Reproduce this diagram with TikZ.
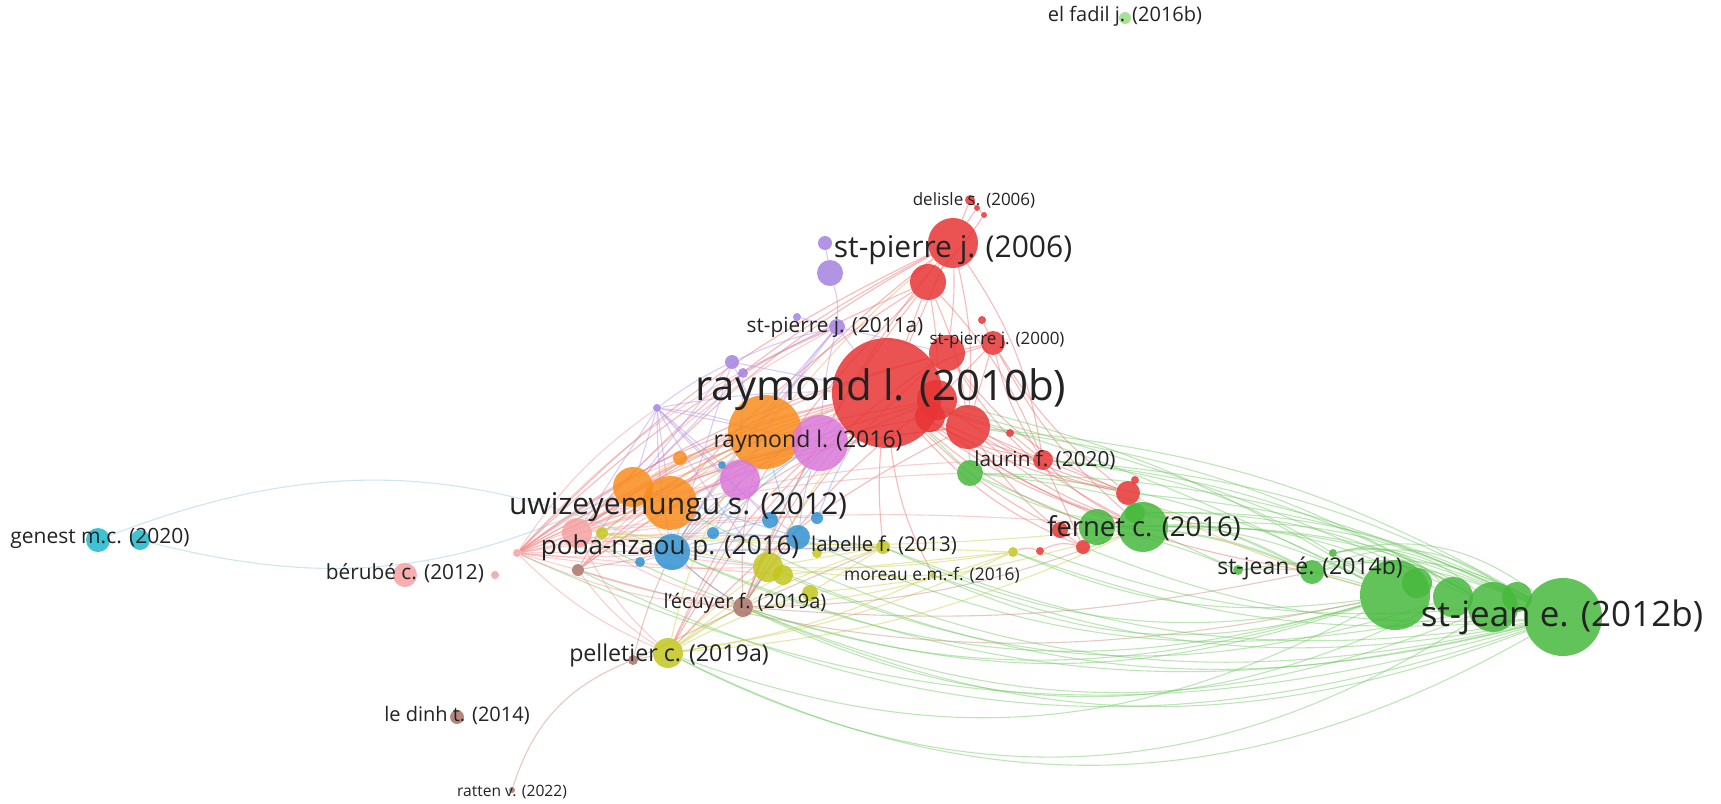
\documentclass[tikz,border=0pt]{standalone}
\usepackage{fontspec}
\setmainfont{Open Sans}
\pgfdeclarelayer{back}
\pgfdeclarelayer{edges}
\pgfsetlayers{back,edges,main}
\definecolor{cR}{RGB}{232,52,52}
\definecolor{cG}{RGB}{70,185,60}
\definecolor{cGl}{RGB}{150,222,135}
\definecolor{cB}{RGB}{50,145,210}
\definecolor{cY}{RGB}{195,198,30}
\definecolor{cP}{RGB}{165,130,225}
\definecolor{cN}{RGB}{170,115,105}
\definecolor{cV}{RGB}{218,120,218}
\definecolor{cK}{RGB}{245,160,160}
\definecolor{cO}{RGB}{248,140,30}
\definecolor{cC}{RGB}{30,185,205}
\definecolor{txt}{RGB}{35,35,35}
\definecolor{eRc}{RGB}{238,105,105}
\definecolor{eGc}{RGB}{110,200,95}
\definecolor{eKc}{RGB}{242,150,150}
\definecolor{eVc}{RGB}{175,145,230}
\definecolor{eBc}{RGB}{110,165,220}
\definecolor{eYc}{RGB}{205,205,70}
\definecolor{eNc}{RGB}{195,140,125}
\definecolor{eOc}{RGB}{245,165,90}
\definecolor{eCc}{RGB}{150,200,225}
\newcommand\fz[1]{\fontsize{#1}{#1}\selectfont}
\tikzset{
 bub/.style 2 args={circle, fill=#1, fill opacity=0.85, draw=none, inner sep=0pt, minimum size=#2pt},
 lbl/.style={text=txt, inner sep=0pt},
 edge/.style={draw=#1, line width=0.55pt, draw opacity=0.45},
}
\begin{document}
\begin{tikzpicture}[x=0.5pt,y=-0.5pt]
\useasboundingbox (0,0) rectangle (1721,804);
\begin{pgfonlayer}{back}
\fill[white] (0,0) rectangle (1721,804);
\end{pgfonlayer}
% ---------- nodes ----------
% red
\node[bub={cR}{25}] (stp06) at (953,243) {};
\node[bub={cR}{18}] (rA) at (928,282) {};
\node[bub={cR}{5}] (dls) at (970,200) {};
\node[bub={cR}{3}] (dlsa) at (977,208) {};
\node[bub={cR}{3}] (dlsb) at (984,215) {};
\node[bub={cR}{18}] (rC) at (947,353) {};
\node[bub={cR}{12}] (stp00) at (993,343) {};
\node[bub={cR}{4}] (rB) at (982,320) {};
\node[bub={cR}{55}] (ray) at (887,393) {};
\node[bub={cR}{20}] (rD) at (937,400) {};
\node[bub={cR}{15}] (rF) at (930,417) {};
\node[bub={cR}{22}] (rE) at (968,427) {};
\node[bub={cR}{4}] (rG) at (1010,433) {};
\node[bub={cR}{10}] (lau) at (1043,460) {};
\node[bub={cR}{12}] (rH) at (1128,493) {};
\node[bub={cR}{4}] (rI) at (1135,480) {};
\node[bub={cR}{8}] (rL) at (1060,530) {};
\node[bub={cR}{7}] (rJ) at (1083,547) {};
\node[bub={cR}{4}] (rK) at (1040,551) {};
% purple
\node[bub={cP}{7}] (pA) at (825,243) {};
\node[bub={cP}{13}] (pB) at (830,273) {};
\node[bub={cP}{8}] (stp11) at (837,327) {};
\node[bub={cP}{4}] (pC) at (797,317) {};
\node[bub={cP}{7}] (pD) at (732,362) {};
\node[bub={cP}{5}] (pE) at (743,373) {};
\node[bub={cP}{4}] (pF) at (657,408) {};
% orange
\node[bub={cO}{37}] (oA) at (765,432) {};
\node[bub={cO}{7}] (oB) at (680,458) {};
\node[bub={cO}{20}] (oC) at (633,487) {};
\node[bub={cO}{27}] (oD) at (670,503) {};
% violet
\node[bub={cV}{28}] (ray16) at (820,443) {};
\node[bub={cV}{20}] (vB) at (740,480) {};
% blue
\node[bub={cB}{18}] (poba) at (672,552) {};
\node[bub={cB}{12}] (bB) at (798,537) {};
\node[bub={cB}{8}] (bC) at (770,520) {};
\node[bub={cB}{6}] (bD) at (817,518) {};
\node[bub={cB}{6}] (bE) at (713,533) {};
\node[bub={cB}{4}] (bF) at (722,465) {};
\node[bub={cB}{5}] (bG) at (640,562) {};
% light pink
\node[bub={cK}{15}] (kA) at (577,533) {};
\node[bub={cK}{4}] (fan) at (517,553) {};
\node[bub={cK}{12}] (ber) at (405,575) {};
\node[bub={cK}{4}] (kB) at (495,575) {};
% yellow
\node[bub={cY}{6}] (yA) at (602,533) {};
\node[bub={cY}{15}] (yB) at (768,567) {};
\node[bub={cY}{10}] (yC) at (783,575) {};
\node[bub={cY}{7}] (lab) at (883,547) {};
\node[bub={cY}{5}] (yD) at (817,553) {};
\node[bub={cY}{8}] (yE) at (810,593) {};
\node[bub={cY}{15}] (pel) at (668,653) {};
\node[bub={cY}{5}] (yF) at (1013,552) {};
\node[bub={cY}{3}] (mor) at (933,575) {};
% brown
\node[bub={cN}{6}] (nA) at (578,570) {};
\node[bub={cN}{10}] (lec) at (743,607) {};
\node[bub={cN}{5}] (nB) at (633,660) {};
\node[bub={cN}{7}] (led) at (457,717) {};
\node[bub={cN}{3}] (rat) at (512,790) {};
% green
\node[bub={cGl}{6}] (fad) at (1125,18) {};
\node[bub={cG}{13}] (gA) at (970,473) {};
\node[bub={cG}{18}] (gB) at (1097,527) {};
\node[bub={cG}{25}] (fer) at (1143,527) {};
\node[bub={cG}{10}] (gC) at (1135,513) {};
\node[bub={cG}{12}] (sj14) at (1312,572) {};
\node[bub={cG}{5}] (gD) at (1238,570) {};
\node[bub={cG}{4}] (gE) at (1333,553) {};
\node[bub={cG}{35}] (gF) at (1395,595) {};
\node[bub={cG}{15}] (gG) at (1417,583) {};
\node[bub={cG}{20}] (gH) at (1453,597) {};
\node[bub={cG}{25}] (gI) at (1493,607) {};
\node[bub={cG}{15}] (gJ) at (1517,597) {};
\node[bub={cG}{39}] (sj12) at (1563,617) {};
% cyan
\node[bub={cC}{12}] (genA) at (98,540) {};
\node[bub={cC}{10}] (genB) at (140,540) {};
% ---------- labels ----------
\node[lbl,font=\fz{10}] (fadL) at (1125,16) {el fadil j. (2016b)};
\node[lbl,font=\fz{8.5}] (dlsL) at (974,200) {delisle s. (2006)};
\node[lbl,font=\fz{15}] (stp06L) at (953,250) {st-pierre j. (2006)};
\node[lbl,font=\fz{10.4}] (stp11L) at (835,327) {st-pierre j. (2011a)};
\node[lbl,font=\fz{8.5}] (stp00L) at (997,340) {st-pierre j. (2000)};
\node[lbl,font=\fz{21}] (rayL) at (881,390) {raymond l. (2010b)};
\node[lbl,font=\fz{11.5}] (ray16L) at (808,442) {raymond l. (2016)};
\node[lbl,font=\fz{10.4}] (lauL) at (1045,460) {laurin f. (2020)};
\node[lbl,font=\fz{15}] (uwL) at (678,507) {uwizeyemungu s. (2012)};
\node[lbl,font=\fz{13}] (pobaL) at (670,548) {poba-nzaou p. (2016)};
\node[lbl,font=\fz{10.2}] (labL) at (884,545) {labelle f. (2013)};
\node[lbl,font=\fz{8.7}] (morL) at (932,575) {moreau e.m.-f. (2016)};
\node[lbl,font=\fz{13.7}] (ferL) at (1144,528) {fernet c. (2016)};
\node[lbl,font=\fz{11.5}] (sj14L) at (1310,568) {st-jean é. (2014b)};
\node[lbl,font=\fz{17.5}] (sj12L) at (1562,617) {st-jean e. (2012b)};
\node[lbl,font=\fz{10.5}] (genL) at (100,538) {genest m.c. (2020)};
\node[lbl,font=\fz{10.4}] (berL) at (405,573) {bérubé c. (2012)};
\node[lbl,font=\fz{10}] (lecL) at (745,603) {l'écuyer f. (2019a)};
\node[lbl,font=\fz{11.6}] (pelL) at (669,655) {pelletier c. (2019a)};
\node[lbl,font=\fz{10}] (ledL) at (457,715) {le dinh t. (2014)};
\node[lbl,font=\fz{7.8}] (ratL) at (512,792) {ratten v. (2022)};
% ---------- connectors ----------
\begin{pgfonlayer}{edges}
% red
\foreach \a/\b/\c in {fan/ray/12, kA/ray/10, nA/ray/12, oC/ray/8, lec/ray/10, pel/ray/12, poba/ray/10,
 fan/stp06/10, oC/stp06/8, kA/stp06/10, ray16/stp06/5, poba/stp06/10, fan/rA/10, oD/rA/8, pel/rA/10,
 lec/rA/8, fan/rC/10, lec/rC/10, pel/rC/12, kA/rC/10, fan/rD/10, poba/rD/8, lec/rD/10, fan/rE/10, pel/rE/10,
 ray/stp06/0, ray/rA/0, ray/stp00/5, ray/lau/-10, ray/rH/-10, ray/fer/-10, ray/gB/-10, ray/rJ/-12,
 ray/sj14/-12, ray/mor/-10, ray/lab/-5,
 rA/stp06/0, rC/stp06/-5, rE/stp06/-8, rD/rA/-5, rE/rA/-8, lau/rA/-10, lau/stp06/-12,
 dls/dlsa/0, dls/dlsb/0, rA/dlsb/-5, stp06/dlsa/0, stp06/dls/0,
 rB/stp00/0, rE/stp00/0, stp00/lau/-10, stp00/rH/-10, stp00/fer/-10, rD/stp00/0, rC/stp00/0,
 rC/rH/-15, rC/fer/-15, rD/rH/-10, rE/lau/0, rE/rH/-10, rE/fer/-10, rE/rJ/-10,
 lau/rH/0, lau/fer/-10, lau/rJ/0, rI/rH/0, rH/fer/0, yF/rK/20, rK/rJ/20, rJ/gB/0, rL/gB/0,
 ray/rL/-8, ray/rG/0, rG/lau/0, rF/lau/-5, rF/fer/-10, kA/rF/8, nA/rD/10, oD/rE/8, yA/ray/10}
 \draw[edge=eRc] (\a) to[bend left=\c] (\b);
% green
\foreach \a/\b/\c in {gA/sj12/12, gA/gF/12, ray/gF/5, rE/sj12/12, lau/sj12/12, lau/gI/12, fer/sj12/12,
 fer/gH/14, gB/sj12/12, gB/gF/14, fer/gJ/15, rH/sj12/10, gC/sj12/14, fer/sj14/8, gB/sj14/10, gA/sj14/10,
 gC/gI/15, lau/gF/14, ray/gI/5, rD/gF/9, rE/gI/11,
 pel/sj12/-28, pel/gF/-24, lec/sj12/-22, lec/gF/-18, lec/gI/-22, poba/sj12/-18, poba/gF/-20, yB/sj12/-18,
 lab/sj12/-15, lab/gF/-18, mor/sj12/-15, yF/sj12/-12, yF/gF/-15, oD/sj12/-20, fan/sj12/-20, kA/gF/-22,
 nA/sj12/-22, bB/gI/-18, yC/gH/-20, mor/gF/-20, rJ/sj12/-12, rK/gI/-12, pel/gI/-30, lec/gH/-26,
 sj14/sj12/20, gE/sj12/25, gD/sj12/15, sj14/gI/25, gE/gI/25, sj14/gF/0, gD/gF/10, gE/gH/30, sj14/gJ/30,
 gC/sj14/10, fer/gD/0, gB/gD/5, gA/fer/-10, gA/gB/0, gA/ray/0, gA/rE/0}
 \draw[edge=eGc] (\a) to[bend left=\c] (\b);
% light pink
\foreach \a/\b/\c in {fan/oA/10, fan/oC/5, fan/oD/5, fan/ray16/10, fan/vB/8, fan/poba/-5, fan/bB/5,
 fan/yB/-5, fan/lec/-10, fan/pel/-10, fan/nA/0, fan/kA/0, fan/bE/5, fan/lab/0, fan/gA/8, fan/pF/10,
 fan/bC/5, fan/yC/0, kA/oA/10, kA/ray16/8, kA/lec/-8, kA/pel/-10, kA/yB/-5, kA/lau/8, kA/fer/5, kA/oD/0,
 kA/vB/5, kA/bD/5, nA/oA/10, nA/lec/-5, nA/pel/-10, nA/ray16/8, nA/oD/5, fan/stp11/12, kA/stp11/10}
 \draw[edge=eKc] (\a) to[bend left=\c] (\b);
% purple
\foreach \a/\b/\c in {pF/oA/5, pF/oC/0, pF/oD/0, pF/poba/-5, pF/bB/-5, pF/vB/0, pF/ray16/0, pF/yB/-5,
 pF/bC/0, pF/kA/0, pF/pD/5, pF/ray/5, pB/stp11/10, pA/pB/0, pD/stp11/5, pE/stp11/5, stp11/ray/0,
 oA/stp11/5, ray16/stp11/5, vB/stp11/5, pC/stp11/0, poba/stp11/5, stp11/rC/0, pD/ray/0, pD/oA/0,
 pE/oC/0, pD/oC/0, pE/vB/0, pD/poba/0}
 \draw[edge=eVc] (\a) to[bend left=\c] (\b);
% blue
\foreach \a/\b/\c in {poba/bB/5, poba/bC/5, poba/oA/5, poba/ray16/5, poba/lab/0, poba/yB/0, poba/lec/-5,
 poba/vB/5, bB/ray16/5, bB/oA/5, lec/bB/5, bB/lab/0, bE/bB/0, bE/oA/0, bF/ray16/0, bG/poba/0, bE/ray/5,
 bC/ray/5, bD/ray/5, oC/bB/0}
 \draw[edge=eBc] (\a) to[bend left=\c] (\b);
% yellow
\foreach \a/\b/\c in {pel/yB/5, pel/yC/5, pel/lab/8, pel/lec/5, pel/yE/5, pel/oA/10, pel/yF/-8,
 pel/mor/-8, pel/fer/-10, yA/yB/0, yA/lab/0, yA/oA/5, yB/lab/0, yB/yF/-5, yB/mor/-5, lab/yF/0,
 yC/yF/0, yE/lab/0, yE/fer/-5, lec/yF/-8, yA/fer/-5, yD/lab/0, yB/ray/5, yA/poba/0}
 \draw[edge=eYc] (\a) to[bend left=\c] (\b);
% brown
\foreach \a/\b/\c in {lec/ray16/5, lec/poba/5, lec/lab/0, lec/fer/-10, lec/yB/0, lec/oA/8, nA/poba/0,
 nA/oC/5, nB/pel/0, nB/lec/0, nB/poba/5, rat/nB/25, lec/sj14/-8, nA/gF/-14}
 \draw[edge=eNc] (\a) to[bend left=\c] (\b);
% orange
\foreach \a/\b/\c in {oA/ray/0, oA/ray16/0, oC/oD/0, oB/oA/0, oC/oA/5, oD/oA/5, oD/ray/5, oA/stp06/5,
 oC/poba/0, oD/poba/0, oB/oC/0, rH/gF/-6}
 \draw[edge=eOc] (\a) to[bend left=\c] (\b);
% cyan
\draw[edge=eCc] (genA) to[bend left=22] (poba);
\draw[edge=eCc] (genB) to[bend right=20] (oC);
\end{pgfonlayer}
\end{tikzpicture}
\end{document}
